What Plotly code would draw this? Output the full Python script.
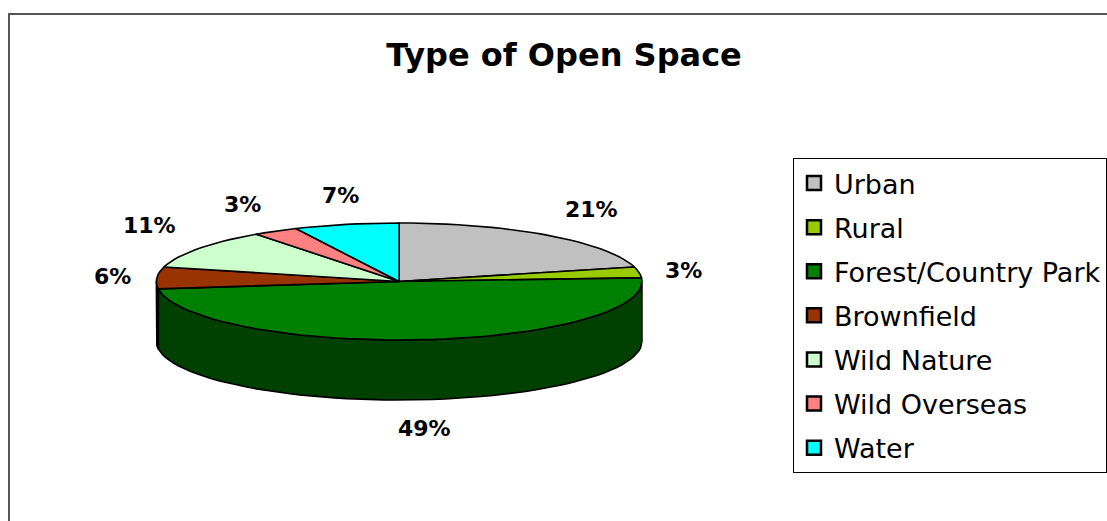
import math
import plotly.graph_objects as go

# ---- data ----
categories = ["Urban", "Rural", "Forest/Country Park", "Brownfield",
              "Wild Nature", "Wild Overseas", "Water"]
values = [21, 3, 49, 6, 11, 3, 7]
top_colors = ["#C0C0C0", "#99CC00", "#008000", "#993300",
              "#CCFFCC", "#FF8080", "#00FFFF"]
side_colors = ["#808080", "#668800", "#004000", "#4C1900",
               "#88AA88", "#AA5555", "#00AAAA"]
title_text = "Type of Open Space"

# ---- geometry (style) ----
W, H = 1107, 521
PX_CX, PX_CY, PX_RX = 399.5, 281.5, 243.0
RY = 58.5 / PX_RX
DEPTH = 60.0 / PX_RX
FX, FY = 1.1, 1.25

def arc(a0, a1, n=120):
    pts = []
    steps = max(2, int(n * (a1 - a0) / (2 * math.pi)) + 2)
    for i in range(steps + 1):
        a = a0 + (a1 - a0) * i / steps
        pts.append((math.sin(a), RY * math.cos(a)))
    return pts

total = sum(values)
angles = []
cum = 0
for v in values:
    a0 = 2 * math.pi * cum / total
    cum += v
    a1 = 2 * math.pi * cum / total
    angles.append((a0, a1))

fig = go.Figure()

# side walls (front half only: 90deg..270deg)
for (a0, a1), c in zip(angles, side_colors):
    s0, s1 = max(a0, math.pi / 2), min(a1, 3 * math.pi / 2)
    if s1 <= s0:
        continue
    top = arc(s0, s1)
    bot = [(x, y - DEPTH) for x, y in reversed(top)]
    pts = top + bot + [top[0]]
    fig.add_trace(go.Scatter(x=[p[0] for p in pts], y=[p[1] for p in pts],
                             mode="lines", fill="toself", fillcolor=c,
                             line=dict(color="black", width=1.6),
                             hoverinfo="skip", showlegend=False))

# top surfaces
for (a0, a1), c, name in zip(angles, top_colors, categories):
    pts = [(0, 0)] + arc(a0, a1) + [(0, 0)]
    fig.add_trace(go.Scatter(x=[p[0] for p in pts], y=[p[1] for p in pts],
                             mode="lines", fill="toself", fillcolor=c,
                             line=dict(color="black", width=1.6),
                             name=name, hoverinfo="name", showlegend=False))

# legend entries
for i, (name, c) in enumerate(zip(categories, top_colors)):
    fig.add_trace(go.Scatter(x=[None], y=[None], mode="markers", name=name,
                             legendgroup=f"g{i}",
                             marker=dict(symbol="square", size=14, color=c,
                                         line=dict(color="black", width=2.5))))

# percentage labels
for (a0, a1), v in zip(angles, values):
    m = (a0 + a1) / 2
    s, co = math.sin(m), math.cos(m)
    x = FX * s
    y = FY * RY * co - (DEPTH if co < 0 else 0)
    xa = "left" if s > 0.3 else ("right" if s < -0.3 else "center")
    ya = "bottom" if co > 0.3 else ("top" if co < -0.3 else "middle")
    fig.add_annotation(x=x, y=y, text=f"{round(100 * v / total)}%",
                       showarrow=False, xanchor=xa, yanchor=ya,
                       font=dict(family="DejaVu Sans", size=22, color="black",
                                 weight="bold"))

x_range = [(0 - PX_CX) / PX_RX, (W - PX_CX) / PX_RX]
y_range = [(PX_CY - H) / PX_RX, PX_CY / PX_RX]

fig.update_layout(
    width=W, height=H,
    margin=dict(l=0, r=0, t=0, b=0),
    paper_bgcolor="white", plot_bgcolor="white",
    xaxis=dict(range=x_range, visible=False, fixedrange=True),
    yaxis=dict(range=y_range, visible=False, fixedrange=True),
    title=dict(text=title_text, x=564 / W, xanchor="center",
               y=1 - 55 / H, yanchor="middle",
               font=dict(family="DejaVu Sans", size=32, color="black",
                         weight="bold")),
    legend=dict(x=794 / W, y=1 - 158 / H, xanchor="left", yanchor="top",
                bgcolor="white", bordercolor="black", borderwidth=1,
                font=dict(family="DejaVu Sans", size=27, color="black"),
                traceorder="grouped", tracegroupgap=6, itemwidth=30),
    showlegend=True,
    shapes=[dict(type="rect", xref="paper", yref="paper",
                 x0=9 / W, x1=1.02, y0=-0.02, y1=1 - 14 / H,
                 line=dict(color="#555555", width=2))],
)

fig.write_html("out.html", config={"displayModeBar": False},
               post_script="document.body.style.margin='0';")
